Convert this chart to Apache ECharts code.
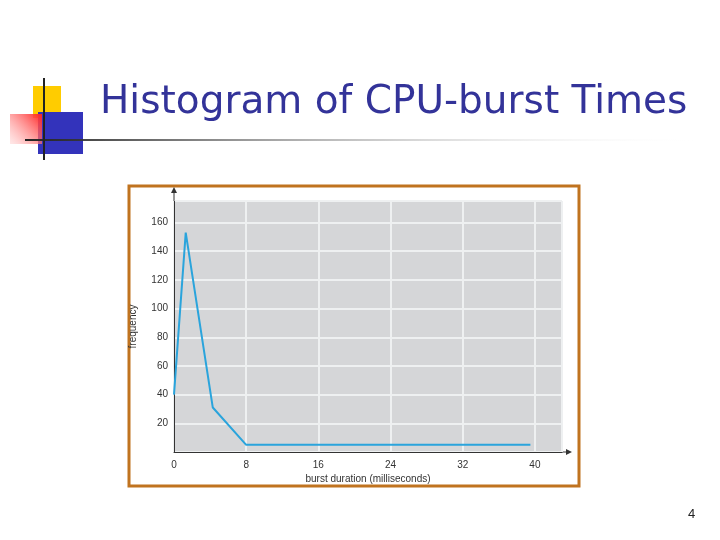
<!DOCTYPE html>
<html>
<head>
<meta charset="utf-8">
<script src="https://cdn.jsdelivr.net/npm/echarts@6/dist/echarts.min.js"></script>
<style>html,body{margin:0;padding:0;background:#fff}#chart{width:720px;height:540px}</style>
</head>
<body>
<div id="chart"></div>
<script>
// burst duration (ms) vs frequency
const burstMs = [0, 1.3, 4.3, 8, 39.5];
const frequency = [40, 153, 31, 5, 5];
const titleText = 'Histogram of CPU-burst Times';
const xName = 'burst duration (milliseconds)';
const yName = 'frequency';

const chart = echarts.init(document.getElementById('chart'));
chart.setOption({
  animation: false,
  backgroundColor: '#fff',
  grid: { left: 174, right: 158, top: 201, bottom: 88, show: true, backgroundColor: '#d5d6d8', borderColor: '#a0a0a0', borderWidth: 1 },
  xAxis: {
    type: 'value', min: 0, max: 43, interval: 8,
    name: xName, nameLocation: 'middle', nameGap: 22,
    nameTextStyle: { fontSize: 10, color: '#333', fontFamily: 'Liberation Sans' },
    axisLine: { lineStyle: { color: '#333' } }, axisTick: { show: false },
    axisLabel: { fontSize: 10, color: '#333', showMaxLabel: false, fontFamily: 'Liberation Sans' },
    splitLine: { lineStyle: { color: '#eef0f1', width: 2 } }
  },
  yAxis: {
    type: 'value', min: 0, max: 175, interval: 20,
    name: yName, nameLocation: 'middle', nameGap: 36,
    nameTextStyle: { fontSize: 10, color: '#333', fontFamily: 'Liberation Sans' },
    axisLine: { show: true, lineStyle: { color: '#333' } }, axisTick: { show: false },
    axisLabel: { fontSize: 10, color: '#333', showMaxLabel: false, fontFamily: 'Liberation Sans', margin: 6,
      formatter: v => v === 0 ? '' : v },
    splitLine: { lineStyle: { color: '#eef0f1', width: 2 } }
  },
  series: [{
    type: 'line', data: burstMs.map((x, i) => [x, frequency[i]]),
    symbol: 'none', lineStyle: { color: '#2aa4dc', width: 2 }
  }],
  graphic: [
    { type: 'rect', shape: { x: 129, y: 186, width: 450, height: 300 }, style: { fill: 'none', stroke: '#c0731f', lineWidth: 3 }, z: 0 },
    { type: 'line', shape: { x1: 562, y1: 452, x2: 570, y2: 452 }, style: { stroke: '#333', lineWidth: 1 } },
    { type: 'polygon', shape: { points: [[572, 452], [566, 449], [566, 455]] }, style: { fill: '#333' } },
    { type: 'line', shape: { x1: 174, y1: 201, x2: 174, y2: 190 }, style: { stroke: '#333', lineWidth: 1 } },
    { type: 'polygon', shape: { points: [[174, 187], [171, 193], [177, 193]] }, style: { fill: '#333' } },
    { type: 'rect', shape: { x: 33, y: 86, width: 28, height: 32 }, style: { fill: '#ffcc00' } },
    { type: 'rect', shape: { x: 38, y: 112, width: 45, height: 42 }, style: { fill: '#3333bb' } },
    { type: 'rect', shape: { x: 10, y: 114, width: 32, height: 30 }, style: { fill: new echarts.graphic.LinearGradient(1, 0, 0, 1, [{ offset: 0, color: '#ff2222' }, { offset: 1, color: 'rgba(255,200,200,0.4)' }]) } },
    { type: 'rect', shape: { x: 25, y: 139, width: 680, height: 2 }, style: { fill: new echarts.graphic.LinearGradient(0, 0, 1, 0, [{ offset: 0, color: '#222' }, { offset: 1, color: 'rgba(255,255,255,0)' }]) } },
    { type: 'rect', shape: { x: 43, y: 78, width: 2, height: 82 }, style: { fill: '#222' } },
    { type: 'text', left: 100, top: 83, style: { text: titleText, fontSize: 39, fill: '#333399', fontFamily: 'DejaVu Sans' } },
    { type: 'text', left: 688, top: 508, style: { text: '4', fontSize: 13, fill: '#222', fontFamily: 'Liberation Sans' } }
  ]
});
</script>
</body>
</html>
